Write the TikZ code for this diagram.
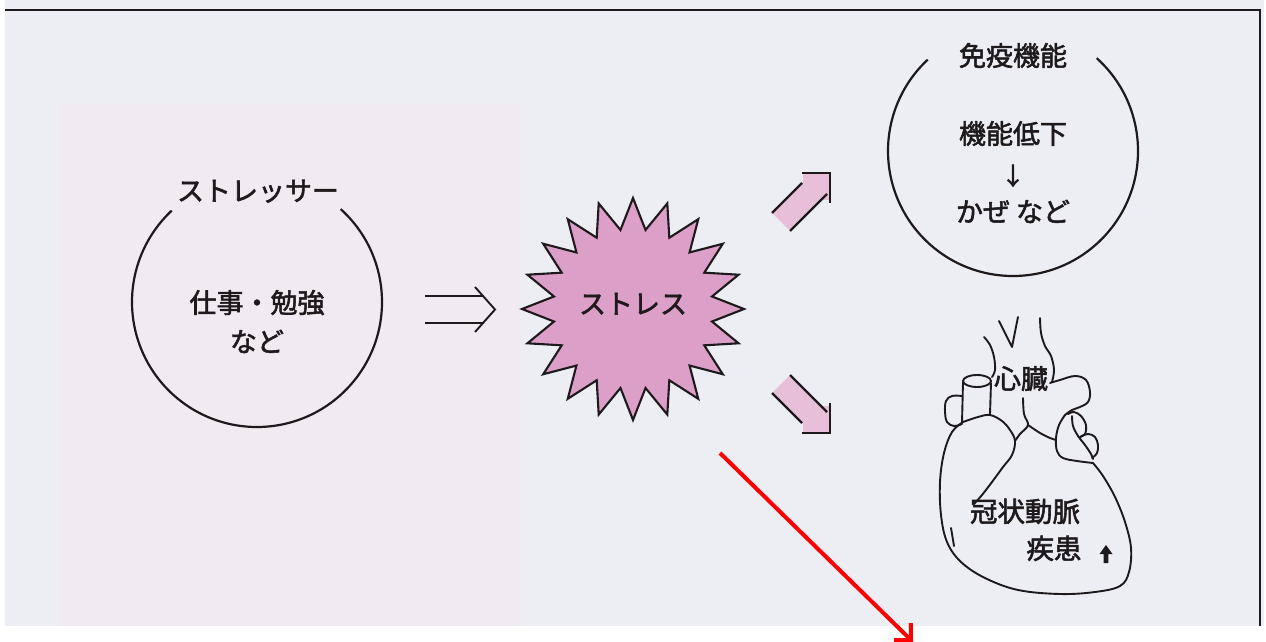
\documentclass[tikz,border=0pt]{standalone}
\usepackage{fontspec}
\newfontfamily\jp[FakeBold=2]{Noto Sans CJK JP}
\usetikzlibrary{arrows.meta}
\definecolor{scanbg}{HTML}{ECEEF3}
\definecolor{scanpink}{HTML}{EFEBF0}
\definecolor{starpink}{HTML}{DC9FC8}
\definecolor{arrowpink}{HTML}{E8BFD9}
\definecolor{ink}{HTML}{1E1A1C}
\begin{document}
\begin{tikzpicture}[x=1pt,y=-1pt,
  line/.style={draw=ink, line width=2.2pt},
  heartline/.style={draw=ink, line width=1.9pt, line cap=round, line join=round},
  txt/.style={font=\jp\fontsize{27}{32}\selectfont, text=ink, inner sep=0pt,
              text height=0.82em, text depth=0.07em},
  holder/.style={circle, minimum size=250pt, draw=none, inner sep=0pt},
  redarrow/.style={draw=red, line width=4pt, -{Straight Barb[length=12pt,width=24pt]}}]
\useasboundingbox (0,0) rectangle (1266,642);
% scanned page background
\fill[white] (0,0) rectangle (1266,642);
\fill[scanbg] (5,0) rectangle (1264,626);
\fill[scanpink] (60,103) rectangle (520,626);
\draw[ink, line width=2pt] (5,10) -- (1260,10) -- (1260,626);

% stressor circle
\node[holder] (stressor) at (257,302) {};
\draw[line] ([shift={(312:125)}]stressor.center) arc[start angle=312, end angle=587, radius=125];
\node[txt] (stressorlbl) at (258,197) {ストレッサー};
\node[txt] (work) at (257,309) {仕事・勉強};
\node[txt] (etc1) at (257,348) {など};

% implies arrow
\coordinate (ia1) at (425,296);
\coordinate (ia2) at (484,296);
\coordinate (ib1) at (425,323);
\coordinate (ib2) at (484,323);
\coordinate (ic1) at (475,287);
\coordinate (ic2) at (495,309.5);
\coordinate (ic3) at (475,332);
\draw[line, line width=1.9pt] (ia1) -- (ia2);
\draw[line, line width=1.9pt] (ib1) -- (ib2);
\draw[line, line width=1.9pt, line join=miter] (ic1) -- (ic2) -- (ic3);

% stress starburst
\path[draw=ink, line width=2.1pt, fill=starpink, line join=miter]
  (744,309) \foreach \k in {0,...,19} {
    -- ({633+111*cos(18*\k)},{309+111*sin(18*\k)})
    -- ({633+80*cos(18*\k+9)},{309+80*sin(18*\k+9)}) } -- cycle;
\node[txt] (stress) at (633,310) {ストレス};

% upper pink arrow
\fill[arrowpink] (772,213) -- (803,182) -- (803,174) -- (829,174) -- (829,200) -- (821,200) -- (790,231) -- cycle;
\draw[line] (772,213) -- (802,183);
\draw[line] (790,231) -- (827,194);
\draw[line, line join=miter] (802,173) -- (830,173) -- (830,203);
% lower pink arrow
\fill[arrowpink] (772,393) -- (803,424) -- (803,432) -- (829,432) -- (829,406) -- (821,406) -- (790,375) -- cycle;
\draw[line] (772,393) -- (802,423);
\draw[line] (790,375) -- (827,412);
\draw[line, line join=miter] (802,433) -- (830,433) -- (830,403);

% immune circle
\node[holder] (immune) at (1013,151) {};
\draw[line] ([shift={(312:125)}]immune.center) arc[start angle=312, end angle=587, radius=125];
\node[txt] (immunelbl) at (1013,62) {免疫機能};
\node[txt] (decline) at (1013,140) {機能低下};
\node[txt, font=\jp\fontsize{24}{28}\selectfont] (down) at (1013,181) {↓};
\node[txt] (cold) at (1013,218) {かぜ など};

% heart
\draw[heartline] (999,321) -- (1012,347) -- (1018,317);
\draw[heartline] plot[smooth, tension=0.6] coordinates {(1040,318) (1041,333) (1045,346) (1051,356) (1054,370) (1052,382)};
\draw[heartline] plot[smooth, tension=0.6] coordinates {(984,337) (990,345) (994,357) (995,370) (992,377)};
\draw[heartline] plot[smooth, tension=0.6] coordinates {(1050,383) (1060,380) (1075,376) (1086,380) (1090,392) (1088,402) (1080,407) (1072,410) (1065,415)};
\draw[heartline] (977,381) ellipse[x radius=14, y radius=6];
\draw[heartline] (963,382) -- (962,423);
\draw[heartline] (991,383) -- (990,414);
\draw[heartline] plot[smooth, tension=0.6] coordinates {(962,396) (952,396) (946,401) (945,412) (947,422) (954,426) (962,424)};
\draw[heartline] plot[smooth, tension=0.6] coordinates {(963,422) (978,417) (990,415) (1002,421) (1010,430) (1015,441) (1012,455) (1003,467) (992,482) (982,495) (974,504)};
\draw[heartline] plot[smooth, tension=0.6] coordinates {(1023,398) (1024,414) (1028,425) (1020,434) (1015,441)};
\draw[heartline] plot[smooth, tension=0.6] coordinates {(1028,425) (1040,433) (1050,438) (1056,440)};
\draw[heartline] plot[smooth, tension=0.6] coordinates {(963,422) (952,432) (944,453) (940,482) (941,515) (947,542) (961,562) (985,578) (1018,590) (1060,594) (1095,592) (1120,586) (1129,572) (1131,548) (1125,522) (1115,497) (1103,476) (1093,463)};
% ear
\draw[heartline] plot[smooth, tension=0.6] coordinates {(1065,415) (1059,425) (1056,438) (1057,451) (1063,458) (1077,461) (1093,463)};
\draw[heartline] plot[smooth, tension=0.6] coordinates {(1068,414) (1074,412) (1081,416) (1086,425) (1085,434) (1080,437)};
\draw[heartline] plot[smooth, tension=0.6] coordinates {(1080,437) (1088,434) (1095,437) (1098,445) (1097,453) (1092,458)};
\draw[heartline] plot[smooth, tension=0.6] coordinates {(1072,416) (1073,426) (1078,436) (1085,445) (1091,454) (1093,459)};
\draw[heartline] (951,528) -- (954,546);
\node[txt] (heartlbl) at (1021,385) {心臓};
\node[txt, font=\jp\fontsize{27.5}{32}\selectfont] (coronary) at (1025,518) {冠状動脈};
\node[txt, font=\jp\fontsize{27.5}{32}\selectfont] (disease) at (1054,555) {疾患};
\fill[ink] (1106,545) -- (1112.5,554) -- (1108.3,554) -- (1108.3,563) -- (1103.7,563) -- (1103.7,554) -- (1099.5,554) -- cycle;

% red annotation arrow
\coordinate (rs) at (720,453);
\coordinate (re) at (913,642);
\draw[redarrow] (rs) -- (re);
\end{tikzpicture}
\end{document}
